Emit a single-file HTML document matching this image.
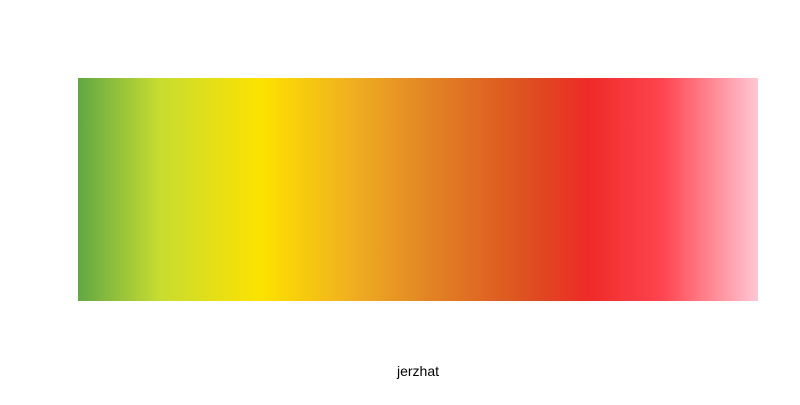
<!DOCTYPE html>
<html><head><meta charset="utf-8"><style>
body{margin:0;width:800px;height:400px;background:#fff;overflow:hidden;font-family:"Liberation Sans",sans-serif}
</style></head><body>
<svg width="800" height="400">
<defs><linearGradient id="g" x1="0" x2="1" y1="0" y2="0"></linearGradient></defs>
<rect id="bar" x="78" y="78" width="680" height="223" fill="url(#g)"/>
<text x="418" y="376" text-anchor="middle" font-size="14" fill="#000">jerzhat</text>
</svg>
<script>
const stopOffsets=[0,0.12,0.27,0.4,0.5,0.66,0.75,0.86,1];
const stopColors=["#62a744","#c8dc30","#fde200","#f0b020","#e38a25","#dd5020","#ee2a28","#ff4550","#ffc8d4"];
const g=document.getElementById('g');
stopOffsets.forEach((o,i)=>{
 const s=document.createElementNS('http://www.w3.org/2000/svg','stop');
 s.setAttribute('offset',o);
 s.setAttribute('stop-color',stopColors[i]);
 
 
 g.appendChild(s);
});
</script>
</body></html>
